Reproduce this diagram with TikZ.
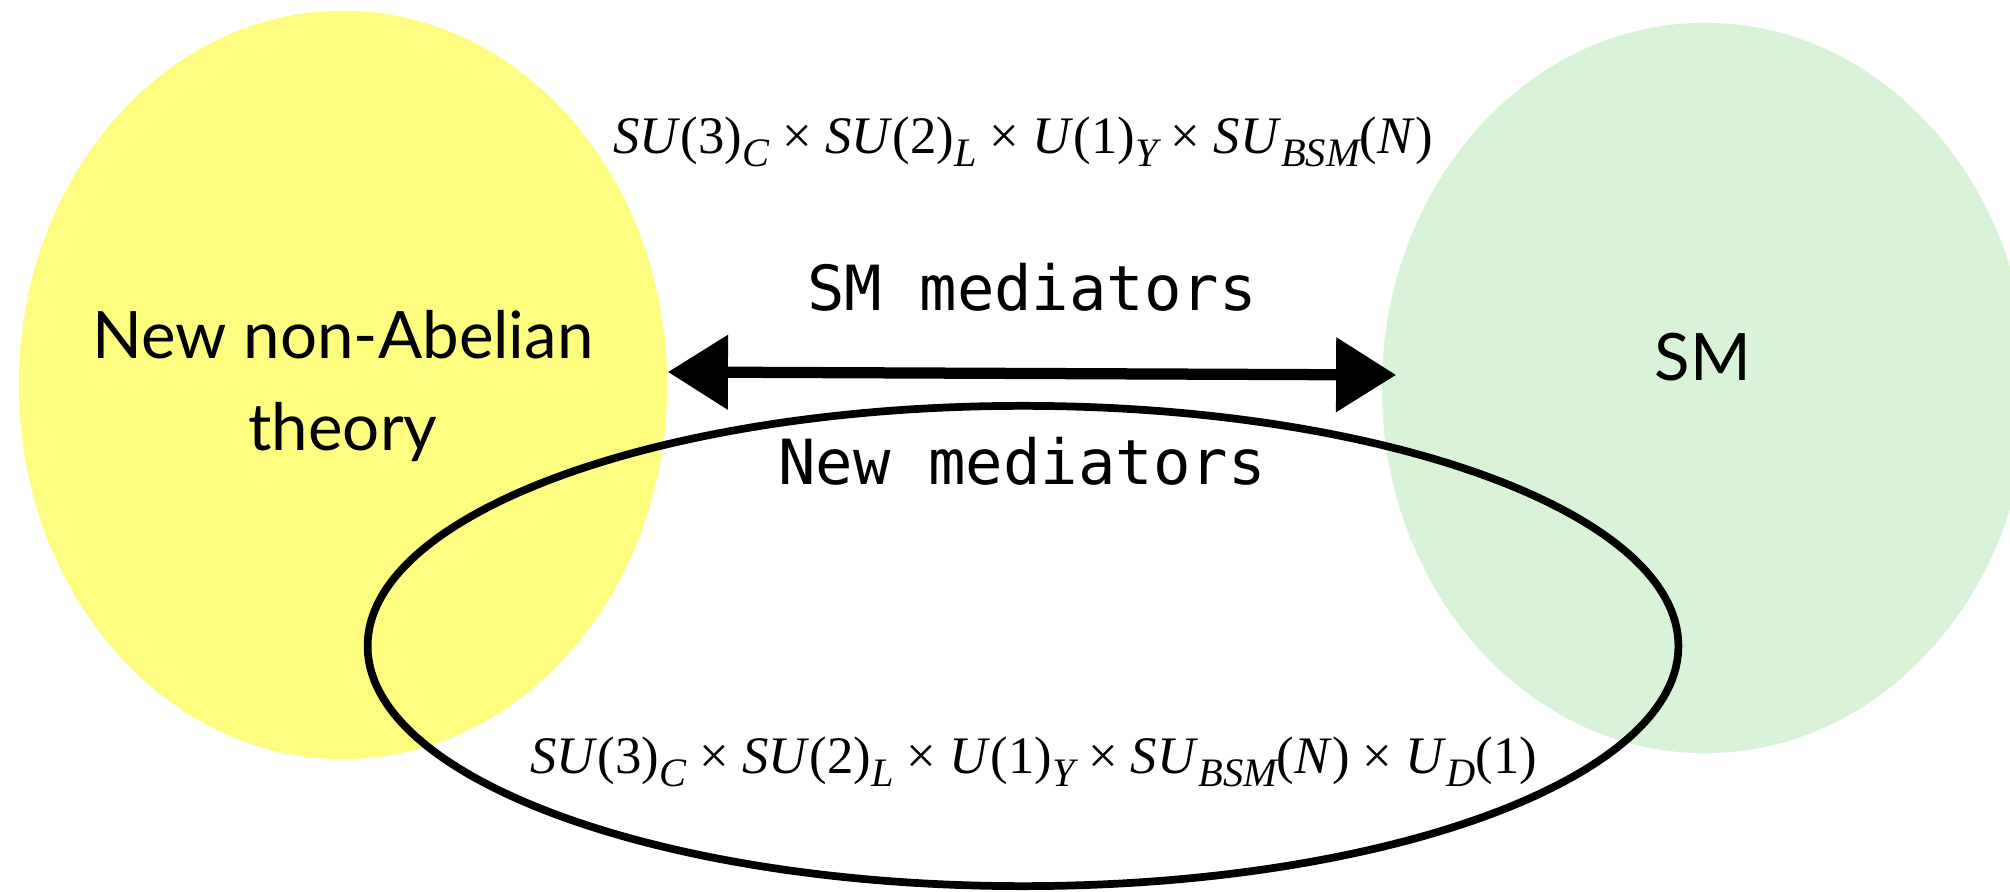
\documentclass[tikz,border=0pt]{standalone}
\usepackage{fontspec}
\setmainfont{Liberation Serif}
\newfontfamily\avfont{Lato}
\newfontfamily\monofont{DejaVu Sans Mono}
\usetikzlibrary{shapes.geometric,arrows.meta}
\definecolor{blobyellow}{RGB}{255,253,128}
\definecolor{blobgreen}{RGB}{216,243,216}
\newcommand{\sbs}[1]{\raisebox{-0.55ex}{\fontsize{11.5}{12}\selectfont\itshape #1}}
\begin{document}
\begin{tikzpicture}[x=0.01cm, y=-0.01cm,
        blob/.style={ellipse, inner sep=0pt},
        groupname/.style={font=\fontsize{15}{18}\selectfont},
        medname/.style={font=\monofont\fontsize{17.7}{20}\selectfont},
        theoryname/.style={font=\avfont\fontsize{18.6}{26}\selectfont, align=center}]
        \useasboundingbox (0,0) rectangle (2010,892);
        \clip (0,0) rectangle (2010,892);

        \node[blob, fill=blobyellow, minimum width=6.48cm, minimum height=7.48cm] (yel) at (343,385) {};
        \node[blob, fill=blobgreen, minimum width=6.46cm, minimum height=7.3cm] (grn) at (1705,388) {};

        \node[theoryname] (newth) at (343,386) {New non-Abelian\\theory};
        \node[theoryname] (smth) at (1703,357) {SM};

        \node[groupname] (gsm) at (1023,142) {\textit{SU}(3)\sbs{C} × \textit{SU}(2)\sbs{L} × \textit{U}(1)\sbs{Y} × \textit{SU}\sbs{BSM}(\textit{N})};
        \node[medname] (smmed) at (1032,287) {SM mediators};

        \draw[line width=3.2pt, {Triangle[length=0.6cm,width=0.72cm]}-{Triangle[length=0.6cm,width=0.72cm]}]
            ([yshift=0.13cm]yel.east) -- ([yshift=0.13cm, xshift=0.15cm]grn.west);

        \node[blob, draw, line width=2.2pt, minimum width=13.1cm, minimum height=4.8cm] (newmed) at (1023,646) {};
        \node[medname] (newlab) at (1022,461) {New mediators};
        \node[groupname] (gnew) at (1034,762) {\textit{SU}(3)\sbs{C} × \textit{SU}(2)\sbs{L} × \textit{U}(1)\sbs{Y} × \textit{SU}\sbs{BSM}(\textit{N}) × \textit{U}\sbs{D}(1)};
    \end{tikzpicture}
\end{document}
